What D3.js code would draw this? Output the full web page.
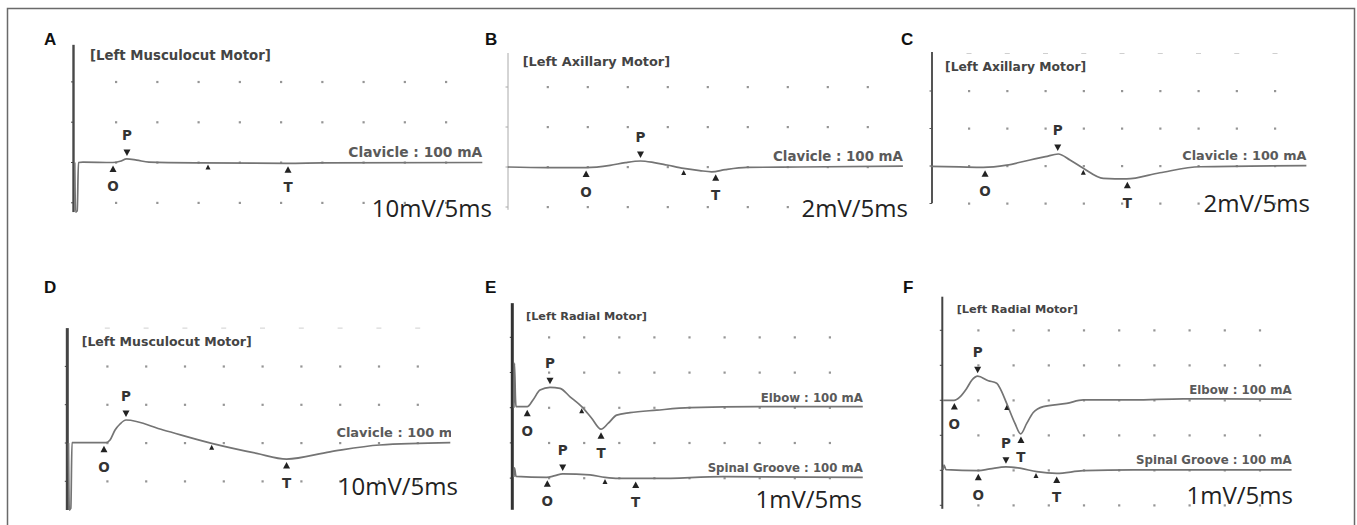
<!DOCTYPE html>
<html>
<head>
<meta charset="utf-8">
<title>Motor nerve conduction traces</title>
<style>
body { margin: 0; background: #fff; }
#fig { display: block; }
.letter { font-family: "Liberation Sans", Arial, sans-serif; font-weight: bold; font-size: 17px; fill: #111; }
.title { font-family: "DejaVu Sans", sans-serif; font-weight: bold; fill: #444; }
.site { font-family: "DejaVu Sans", sans-serif; font-weight: bold; fill: #5a5a5a; }
.mark { font-family: "DejaVu Sans", sans-serif; font-weight: bold; font-size: 13.5px; fill: #333; }
.gain { font-family: "Open Sans", sans-serif; font-size: 24px; fill: #222; }
.trace { fill: none; stroke: #747474; stroke-width: 1.7; }
.dot { fill: #959595; }
.faint { fill: #cfcfcf; }
</style>
</head>
<body>
<svg id="fig"></svg>
<script src="https://d3js.org/d3.v7.min.js"></script>
<script>
// ---- data (time in ms, amplitude in mV) ----
var letters = ["A", "B", "C", "D", "E", "F"];
var titles = ["[Left Musculocut Motor]", "[Left Axillary Motor]", "[Left Axillary Motor]",
              "[Left Musculocut Motor]", "[Left Radial Motor]", "[Left Radial Motor]"];
var gains = ["10mV/5ms", "2mV/5ms", "2mV/5ms", "10mV/5ms", "1mV/5ms", "1mV/5ms"];
var mvPerDiv = [10, 2, 2, 10, 1, 1];
var msPerDiv = 5;
var sweepDivs = 10;

var traceA = [[0,0],[0.1,-12.3],[0.3,-12],[0.45,0],[1,0.1],[4.6,0],[5.5,0.3],[6.3,0.9],[7.5,0.6],[9,0.1],[15,-0.1],[25.8,-0.2],[30,-0.1],[49.4,0]];
var traceB = [[0,0],[4.9,-0.03],[9.8,-0.03],[12.8,0.08],[14.7,0.22],[16.6,0.3],[18.3,0.22],[19.9,0.1],[22,-0.07],[24,-0.18],[25.5,-0.24],[27.2,-0.13],[29.9,-0.02],[36.5,0],[49.4,0.04]];
var traceC = [[0,-0.02],[3.8,-0.05],[6.87,-0.07],[9.93,0.05],[12.97,0.32],[15,0.5],[16.67,0.64],[18.2,0.32],[19.94,-0.12],[22.55,-0.66],[25.6,-0.69],[29.95,-0.36],[35.2,-0.04],[49.1,0.02]];
var traceD = [[0,0],[0.1,-17.5],[0.3,-17],[0.45,0.08],[4.83,0.08],[5.35,0.78],[6,3.4],[6.64,4.96],[7.41,6],[12.2,3.4],[18.45,-0.08],[24.25,-2.7],[28.1,-4.2],[33.7,-2.3],[40.1,-0.52],[49.2,0.08]];
var traceE1 = [[0,0],[0.08,1.27],[0.23,0.22],[0.3,0.03],[1.9,0.03],[2.72,0.22],[3.72,0.5],[5.14,0.58],[6.57,0.55],[8,0.31],[9.66,0.03],[11.08,-0.3],[12.41,-0.61],[13.45,-0.44],[14.64,-0.21],[16.54,-0.14],[20.34,-0.07],[25.08,0],[34.6,0.03],[49.7,0.03]];
var traceE2 = [[0,0.03],[0.08,0.29],[0.3,0.05],[4.67,0.02],[5.85,0.07],[6.95,0.12],[10.84,0.09],[12.98,0.02],[14.87,-0.01],[17.35,-0.01],[20.34,-0.01],[29.8,0.04],[49.7,0.02]];
var traceF1 = [[0,0],[1.55,0],[2.4,0.1],[3.35,0.34],[4.1,0.58],[4.91,0.69],[6.42,0.56],[7.61,0.49],[8.22,0.29],[9.03,-0.09],[10.21,-0.66],[11.02,-0.96],[11.88,-0.66],[12.81,-0.35],[14.23,-0.18],[17.56,-0.09],[19.91,0.01],[27,0.01],[34.1,0.04],[49.5,0.03]];
var traceF2 = [[0,0.01],[0.13,0.15],[0.41,0.02],[5,-0.01],[6.66,0.04],[8.93,0.1],[10.92,0.06],[13.3,-0.04],[16.14,-0.09],[19.91,-0.01],[27,0.01],[49.5,0.01]];

var marksA = [["O",4.64],["P",6.33],["",16.15],["T",25.85]];
var marksB = [["O",9.8],["P",16.6],["",22.0],["T",26.0]];
var marksC = [["O",7.1],["P",16.6],["",19.94],["T",25.7]];
var marksD = [["O",4.57],["P",7.41],["",18.45],["T",28.1]];
var marksE1 = [["O",1.9],["P",5.14],["",9.66],["T",12.41]];
var marksE2 = [["O",4.76],["P",6.95],["",12.98],["T",17.35]];
var marksF1 = [["O",1.6],["P",4.91],["",9.03],["T",11.06]];
var marksF2 = [["O",5.0],["P",8.93],["",13.2],["T",16.14]];

var sites = ["Clavicle : 100 mA", "Elbow : 100 mA", "Spinal Groove : 100 mA"];
// baseline shift of each recording, in divisions
var recordings = [
  {panel: 0, site: sites[0], trace: traceA, marks: marksA, shift: 0},
  {panel: 1, site: sites[0], trace: traceB, marks: marksB, shift: 0},
  {panel: 2, site: sites[0], trace: traceC, marks: marksC, shift: 0},
  {panel: 3, site: sites[0], trace: traceD, marks: marksD, shift: 0},
  {panel: 4, site: sites[1], trace: traceE1, marks: marksE1, shift: 0},
  {panel: 4, site: sites[2], trace: traceE2, marks: marksE2, shift: -2},
  {panel: 5, site: sites[1], trace: traceF1, marks: marksF1, shift: 0},
  {panel: 5, site: sites[2], trace: traceF2, marks: marksF2, shift: -2}
];

// ---- layout (pixels) ----
var layout = [
  {x0: 74.75, dx: 41.25, y0: 162.5, dy: 40.3, rows: [2,1,0,-1], faint: [], ax: 73.5, axR: [2.92,-1.23], aw: 2.4, ac: "#484848",
   lx: 44, ly: 45, tx: 90, ty: 60, gx: 492, gy: 217, siteDx: 0},
  {x0: 507.7, dx: 40, y0: 167, dy: 40, rows: [2,1,0,-1], faint: [], ax: 508, axR: [2.85,-1.07], aw: 1, ac: "#aaa",
   lx: 485, ly: 45, tx: 522.7, ty: 66, gx: 908, gy: 217, siteDx: 0},
  {x0: 930.75, dx: 38.25, y0: 166, dy: 37.5, rows: [2,1,0,-1], faint: [3], ax: 932, axR: [3.04,-0.99], aw: 2, ac: "#555",
   lx: 901, ly: 45, tx: 945, ty: 71, gx: 1310, gy: 212, siteDx: 0},
  {x0: 68.5, dx: 38.8, y0: 443, dy: 38.3, rows: [2,1,0,-1], faint: [3], ax: 67.3, axR: [3.0,-1.75], aw: 3, ac: "#444",
   lx: 44, ly: 293, tx: 81.7, ty: 346, gx: 458, gy: 495, siteDx: 12, clipX: 451},
  {x0: 513.9, dx: 35.1, y0: 407.7, dy: 35.2, rows: [2,1,0,-1,-2], faint: [], ax: 512.3, axR: [2.97,-2.9], aw: 3, ac: "#333",
   lx: 485, ly: 293, tx: 526, ty: 320, gx: 862, gy: 508, siteDx: 0},
  {x0: 943.1, dx: 35.2, y0: 400.3, dy: 35, rows: [2,1,0,-1,-2,-3], faint: [], ax: 942.3, axR: [2.96,-3.1], aw: 2, ac: "#444",
   lx: 903, ly: 293, tx: 956.7, ty: 313, gx: 1293, gy: 504, siteDx: 0}
];

var svg = d3.select("#fig").attr("width", 1357).attr("height", 525);
svg.append("rect").attr("width", 1357).attr("height", 525).attr("fill", "#fff");
svg.append("rect")
  .attr("x", 7.5).attr("y", 8.5).attr("width", 1347).attr("height", 540)
  .attr("fill", "none").attr("stroke", "#6a6a6a").attr("stroke-width", 1.5);

var defs = svg.append("defs");
var scales = [];

layout.forEach(function(L, i) {
  var k = L.dx / 41.25;
  var x = d3.scaleLinear().domain([0, msPerDiv * sweepDivs]).range([L.x0, L.x0 + L.dx * sweepDivs]);
  var y = d3.scaleLinear().domain([0, mvPerDiv[i]]).range([L.y0, L.y0 - L.dy]);
  scales.push({x: x, y: y, k: k});

  var g = svg.append("g").attr("class", "panel");
  if (L.clipX) {
    defs.append("clipPath").attr("id", "clip" + i)
      .append("rect").attr("x", 0).attr("y", 0).attr("width", L.clipX).attr("height", 525);
    g.attr("clip-path", "url(#clip" + i + ")");
  }
  L.g = g;

  // grid dots, one per division
  var cols = d3.range(1, sweepDivs);
  L.rows.forEach(function(r) {
    g.selectAll(null).data(cols).enter().append("rect")
      .attr("class", "dot")
      .attr("x", function(c) { return x(c * msPerDiv) - 1; })
      .attr("y", y(r * mvPerDiv[i]) - 1)
      .attr("width", 2.2).attr("height", 2.2);
    g.append("line")
      .attr("x1", L.ax - 2.5).attr("x2", L.ax)
      .attr("y1", y(r * mvPerDiv[i])).attr("y2", y(r * mvPerDiv[i]))
      .attr("stroke", L.ac).attr("stroke-width", 1);
  });
  L.faint.forEach(function(r) {
    g.selectAll(null).data(cols).enter().append("rect")
      .attr("class", "faint")
      .attr("x", function(c) { return x(c * msPerDiv) - 2.5; })
      .attr("y", y(r * mvPerDiv[i]) - 0.5)
      .attr("width", 5).attr("height", 1);
  });

  // vertical axis
  g.append("line")
    .attr("x1", L.ax).attr("x2", L.ax)
    .attr("y1", y(L.axR[0] * mvPerDiv[i])).attr("y2", y(L.axR[1] * mvPerDiv[i]))
    .attr("stroke", L.ac).attr("stroke-width", L.aw);

  svg.append("text").attr("class", "letter").attr("x", L.lx).attr("y", L.ly).text(letters[i]);
  g.append("text").attr("class", "title")
    .attr("x", L.tx).attr("y", L.ty)
    .style("font-size", (13.3 * k) + "px")
    .text(titles[i]);
  svg.append("text").attr("class", "gain")
    .attr("x", L.gx).attr("y", L.gy).attr("text-anchor", "end")
    .text(gains[i]);
});

var bis = d3.bisector(function(d) { return d[0]; }).left;
function valueAt(trace, t) {
  var j = Math.max(1, Math.min(trace.length - 1, bis(trace, t)));
  var a = trace[j - 1], b = trace[j];
  return a[1] + (b[1] - a[1]) * (t - a[0]) / (b[0] - a[0]);
}

recordings.forEach(function(rec) {
  var L = layout[rec.panel], S = scales[rec.panel], g = L.g;
  var off = rec.shift * mvPerDiv[rec.panel];
  var line = d3.line()
    .x(function(d) { return S.x(d[0]); })
    .y(function(d) { return S.y(d[1] + off); })
    .curve(d3.curveMonotoneX);

  g.append("path").attr("class", "trace").attr("d", line(rec.trace));

  var last = rec.trace[rec.trace.length - 1];
  g.append("text").attr("class", "site")
    .attr("x", S.x(last[0]) + L.siteDx)
    .attr("y", S.y(off) - 6)
    .attr("text-anchor", "end")
    .style("font-size", (13.8 * S.k) + "px")
    .text(rec.site);

  rec.marks.forEach(function(m) {
    var px = S.x(m[1]);
    var py = S.y(valueAt(rec.trace, m[1]) + off);
    var tri, lab;
    if (m[0] === "P") {
      tri = [[px - 3.5, py - 9.5], [px + 3.5, py - 9.5], [px, py - 3]];
      lab = py - 19;
    } else if (m[0] === "") {
      tri = [[px - 2.5, py + 6.5], [px + 2.5, py + 6.5], [px, py + 1.5]];
    } else {
      tri = [[px - 3.5, py + 9.5], [px + 3.5, py + 9.5], [px, py + 3]];
      lab = py + 29;
    }
    g.append("path").attr("d", "M" + tri.join("L") + "Z").attr("fill", "#222");
    if (m[0] !== "") {
      g.append("text").attr("class", "mark")
        .attr("x", px).attr("y", lab).attr("text-anchor", "middle")
        .text(m[0]);
    }
  });
});
</script>
</body>
</html>
